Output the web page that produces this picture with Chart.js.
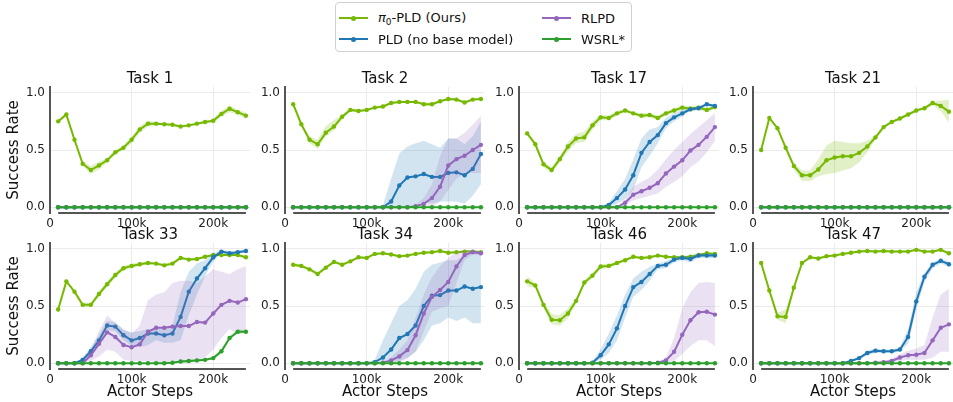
<!DOCTYPE html>
<html>
<head>
<meta charset="utf-8">
<title>Success rate per task</title>
<script src="https://cdn.jsdelivr.net/npm/chart.js@4.4.1/dist/chart.umd.min.js"></script>
<style>
  html, body { margin: 0; padding: 0; background: #fff; overflow: hidden; }
  body { position: relative; width: 953px; height: 402px; font-family: "DejaVu Sans", sans-serif; color: #111; }
  canvas { position: absolute; }
  #legend { position: absolute; left: 335px; top: 2px; width: 297px; height: 50px; border: 1px solid #d0d0d0; border-radius: 4px; box-sizing: border-box; background: #fff; z-index: 2; }
  .entry { position: absolute; height: 20px; display: flex; align-items: center; font-size: 13px; white-space: nowrap; }
  .swatch { position: relative; width: 29px; height: 2px; margin-right: 10px; }
  .swatch::after { content: ""; position: absolute; left: 12px; top: -1.5px; width: 5px; height: 5px; border-radius: 50%; background: inherit; }
  sub { font-size: 9px; vertical-align: -3px; }
</style>
</head>
<body>
<div id="legend">
  <div class="entry" style="left:3px; top:5px"><span class="swatch" style="background:#76b900"></span><span><i>π</i><sub>0</sub>-PLD (Ours)</span></div>
  <div class="entry" style="left:3px; top:26px"><span class="swatch" style="background:#1f77b4"></span><span>PLD (no base model)</span></div>
  <div class="entry" style="left:206px; top:5px"><span class="swatch" style="background:#9467bd"></span><span>RLPD</span></div>
  <div class="entry" style="left:206px; top:26px"><span class="swatch" style="background:#2ca02c"></span><span>WSRL*</span></div>
</div>
<script>
// actor steps at which every run was evaluated
const steps = [10000, 20000, 30000, 40000, 50000, 60000, 70000, 80000, 90000, 100000, 110000, 120000,
               130000, 140000, 150000, 160000, 170000, 180000, 190000, 200000, 210000, 220000, 230000, 240000];
const step_ticks = [0, 100000, 200000];
const rate_ticks = [0, 0.5, 1.0];
const zero_line = [0, 0, 0, 0, 0, 0, 0, 0, 0, 0, 0, 0, 0, 0, 0, 0, 0, 0, 0, 0, 0, 0, 0, 0];

// Task 1
const task1_pi0    = [0.75, 0.81, 0.59, 0.38, 0.325, 0.365, 0.41, 0.48, 0.52, 0.59, 0.68, 0.73, 0.73, 0.725, 0.72, 0.705, 0.715, 0.73, 0.745, 0.755, 0.815, 0.86, 0.83, 0.80];
const task1_pi0_lo = [0.74, 0.80, 0.57, 0.36, 0.29, 0.33, 0.39, 0.46, 0.50, 0.56, 0.65, 0.705, 0.715, 0.715, 0.71, 0.695, 0.705, 0.72, 0.735, 0.74, 0.79, 0.83, 0.81, 0.77];
const task1_pi0_hi = [0.76, 0.82, 0.61, 0.40, 0.36, 0.40, 0.43, 0.50, 0.54, 0.62, 0.71, 0.755, 0.745, 0.735, 0.73, 0.715, 0.725, 0.74, 0.755, 0.77, 0.84, 0.89, 0.85, 0.83];

// Task 2
const task2_pi0     = [0.90, 0.725, 0.59, 0.55, 0.65, 0.705, 0.79, 0.85, 0.84, 0.85, 0.87, 0.88, 0.91, 0.92, 0.92, 0.92, 0.90, 0.90, 0.925, 0.945, 0.94, 0.915, 0.94, 0.945];
const task2_pi0_lo  = [0.89, 0.71, 0.56, 0.51, 0.62, 0.67, 0.77, 0.835, 0.83, 0.84, 0.86, 0.865, 0.90, 0.91, 0.91, 0.91, 0.885, 0.885, 0.915, 0.935, 0.93, 0.90, 0.93, 0.935];
const task2_pi0_hi  = [0.91, 0.74, 0.62, 0.59, 0.71, 0.76, 0.81, 0.865, 0.855, 0.86, 0.88, 0.895, 0.92, 0.93, 0.93, 0.93, 0.915, 0.915, 0.935, 0.955, 0.95, 0.93, 0.95, 0.955];
const task2_pld     = [0, 0, 0, 0, 0, 0, 0, 0, 0, 0, 0, 0, 0.05, 0.19, 0.26, 0.27, 0.29, 0.265, 0.265, 0.30, 0.305, 0.28, 0.335, 0.465];
const task2_pld_lo  = [0, 0, 0, 0, 0, 0, 0, 0, 0, 0, 0, 0, 0, 0, 0, 0.02, 0.05, 0.03, 0.05, 0.05, 0.05, 0.03, 0.10, 0.20];
const task2_pld_hi  = [0, 0, 0, 0, 0, 0, 0, 0, 0, 0, 0, 0.02, 0.25, 0.47, 0.53, 0.56, 0.58, 0.55, 0.52, 0.60, 0.60, 0.55, 0.62, 0.75];
const task2_rlpd    = [0, 0, 0, 0, 0, 0, 0, 0, 0, 0, 0, 0, 0, 0, 0, 0.01, 0.03, 0.08, 0.18, 0.365, 0.42, 0.45, 0.50, 0.545];
const task2_rlpd_lo = [0, 0, 0, 0, 0, 0, 0, 0, 0, 0, 0, 0, 0, 0, 0, 0, 0, 0, 0.05, 0.15, 0.25, 0.30, 0.30, 0.30];
const task2_rlpd_hi = [0, 0, 0, 0, 0, 0, 0, 0, 0, 0, 0, 0, 0, 0, 0, 0.02, 0.08, 0.20, 0.45, 0.60, 0.60, 0.65, 0.72, 0.80];

// Task 17
const task17_pi0     = [0.645, 0.55, 0.375, 0.325, 0.42, 0.53, 0.60, 0.61, 0.715, 0.785, 0.78, 0.82, 0.845, 0.82, 0.80, 0.805, 0.78, 0.82, 0.845, 0.87, 0.86, 0.87, 0.85, 0.875];
const task17_pi0_lo  = [0.63, 0.53, 0.35, 0.30, 0.39, 0.49, 0.56, 0.57, 0.68, 0.76, 0.76, 0.80, 0.83, 0.805, 0.78, 0.785, 0.76, 0.80, 0.825, 0.85, 0.835, 0.85, 0.83, 0.855];
const task17_pi0_hi  = [0.66, 0.57, 0.40, 0.35, 0.45, 0.57, 0.64, 0.66, 0.75, 0.81, 0.80, 0.84, 0.86, 0.835, 0.82, 0.825, 0.80, 0.84, 0.865, 0.89, 0.885, 0.89, 0.87, 0.895];
const task17_pld     = [0, 0, 0, 0, 0, 0, 0, 0, 0, 0, 0.02, 0.08, 0.155, 0.28, 0.475, 0.57, 0.63, 0.735, 0.785, 0.82, 0.855, 0.865, 0.90, 0.885];
const task17_pld_lo  = [0, 0, 0, 0, 0, 0, 0, 0, 0, 0, 0, 0.03, 0.07, 0.15, 0.35, 0.45, 0.56, 0.69, 0.75, 0.79, 0.84, 0.85, 0.89, 0.87];
const task17_pld_hi  = [0, 0, 0, 0, 0, 0, 0, 0, 0, 0, 0.04, 0.14, 0.25, 0.42, 0.60, 0.68, 0.70, 0.78, 0.82, 0.85, 0.87, 0.88, 0.91, 0.90];
const task17_rlpd    = [0, 0, 0, 0, 0, 0, 0, 0, 0, 0, 0, 0, 0.04, 0.11, 0.14, 0.17, 0.21, 0.295, 0.355, 0.41, 0.495, 0.545, 0.615, 0.70];
const task17_rlpd_lo = [0, 0, 0, 0, 0, 0, 0, 0, 0, 0, 0, 0, 0.02, 0.06, 0.08, 0.10, 0.12, 0.18, 0.22, 0.27, 0.35, 0.40, 0.48, 0.58];
const task17_rlpd_hi = [0, 0, 0, 0, 0, 0, 0, 0, 0, 0, 0, 0, 0.06, 0.18, 0.22, 0.26, 0.33, 0.42, 0.50, 0.57, 0.64, 0.70, 0.76, 0.82];

// Task 21
const task21_pi0    = [0.50, 0.78, 0.69, 0.52, 0.36, 0.28, 0.28, 0.33, 0.41, 0.435, 0.445, 0.445, 0.475, 0.53, 0.61, 0.70, 0.745, 0.775, 0.81, 0.845, 0.865, 0.91, 0.885, 0.835];
const task21_pi0_lo = [0.49, 0.77, 0.68, 0.50, 0.33, 0.23, 0.23, 0.27, 0.29, 0.30, 0.32, 0.34, 0.39, 0.48, 0.59, 0.69, 0.735, 0.76, 0.80, 0.835, 0.85, 0.89, 0.84, 0.74];
const task21_pi0_hi = [0.51, 0.79, 0.70, 0.54, 0.39, 0.32, 0.32, 0.42, 0.54, 0.58, 0.57, 0.56, 0.56, 0.58, 0.63, 0.71, 0.755, 0.79, 0.82, 0.855, 0.88, 0.93, 0.93, 0.94];

// Task 33
const task33_pi0     = [0.47, 0.715, 0.625, 0.51, 0.51, 0.605, 0.69, 0.77, 0.83, 0.85, 0.865, 0.875, 0.87, 0.855, 0.87, 0.92, 0.905, 0.91, 0.93, 0.945, 0.945, 0.945, 0.945, 0.925];
const task33_pi0_lo  = [0.46, 0.705, 0.615, 0.49, 0.49, 0.58, 0.665, 0.745, 0.81, 0.83, 0.85, 0.86, 0.855, 0.84, 0.855, 0.91, 0.89, 0.90, 0.92, 0.935, 0.935, 0.935, 0.935, 0.91];
const task33_pi0_hi  = [0.48, 0.725, 0.635, 0.53, 0.53, 0.63, 0.715, 0.795, 0.85, 0.87, 0.88, 0.89, 0.885, 0.87, 0.885, 0.93, 0.92, 0.92, 0.94, 0.955, 0.955, 0.955, 0.955, 0.94];
const task33_pld     = [0, 0, 0, 0.03, 0.105, 0.20, 0.33, 0.32, 0.245, 0.20, 0.22, 0.26, 0.26, 0.245, 0.26, 0.405, 0.625, 0.74, 0.83, 0.925, 0.975, 0.96, 0.97, 0.98];
const task33_pld_lo  = [0, 0, 0, 0.01, 0.07, 0.15, 0.29, 0.28, 0.20, 0.15, 0.14, 0.16, 0.20, 0.18, 0.18, 0.20, 0.42, 0.60, 0.76, 0.89, 0.96, 0.94, 0.955, 0.97];
const task33_pld_hi  = [0, 0, 0, 0.05, 0.14, 0.25, 0.37, 0.36, 0.29, 0.27, 0.28, 0.30, 0.30, 0.30, 0.33, 0.62, 0.80, 0.87, 0.90, 0.96, 0.99, 0.98, 0.985, 0.99];
const task33_rlpd    = [0, 0, 0, 0, 0.07, 0.17, 0.27, 0.23, 0.16, 0.14, 0.165, 0.275, 0.31, 0.31, 0.32, 0.325, 0.325, 0.36, 0.355, 0.435, 0.51, 0.545, 0.53, 0.56];
const task33_rlpd_lo = [0, 0, 0, 0, 0.02, 0.06, 0.12, 0.10, 0.03, 0.02, 0.02, 0.02, 0.01, 0, 0, 0, 0, 0.02, 0.05, 0.12, 0.22, 0.30, 0.25, 0.28];
const task33_rlpd_hi = [0, 0, 0, 0, 0.12, 0.28, 0.42, 0.35, 0.30, 0.26, 0.33, 0.55, 0.60, 0.62, 0.70, 0.72, 0.72, 0.70, 0.76, 0.82, 0.80, 0.78, 0.82, 0.85];
const task33_wsrl    = [0, 0, 0, 0, 0, 0, 0, 0, 0, 0, 0, 0, 0, 0, 0.005, 0.015, 0.02, 0.025, 0.03, 0.045, 0.105, 0.22, 0.275, 0.275];
const task33_wsrl_lo = [0, 0, 0, 0, 0, 0, 0, 0, 0, 0, 0, 0, 0, 0, 0, 0.005, 0.01, 0.015, 0.02, 0.03, 0.085, 0.20, 0.26, 0.26];
const task33_wsrl_hi = [0, 0, 0, 0, 0, 0, 0, 0, 0, 0, 0, 0, 0, 0, 0.01, 0.025, 0.03, 0.035, 0.04, 0.06, 0.125, 0.24, 0.295, 0.29];

// Task 34
const task34_pi0     = [0.86, 0.85, 0.82, 0.78, 0.835, 0.885, 0.86, 0.89, 0.925, 0.92, 0.955, 0.96, 0.95, 0.935, 0.94, 0.955, 0.965, 0.97, 0.98, 0.965, 0.97, 0.975, 0.975, 0.97];
const task34_pi0_lo  = [0.845, 0.835, 0.805, 0.76, 0.82, 0.875, 0.845, 0.88, 0.915, 0.91, 0.945, 0.95, 0.94, 0.925, 0.93, 0.945, 0.955, 0.96, 0.97, 0.955, 0.96, 0.965, 0.965, 0.96];
const task34_pi0_hi  = [0.875, 0.865, 0.835, 0.80, 0.85, 0.895, 0.875, 0.90, 0.935, 0.93, 0.965, 0.97, 0.96, 0.945, 0.95, 0.965, 0.975, 0.98, 0.99, 0.975, 0.98, 0.985, 0.985, 0.98];
const task34_pld     = [0, 0, 0, 0, 0, 0, 0, 0, 0, 0, 0.01, 0.05, 0.12, 0.22, 0.255, 0.33, 0.50, 0.59, 0.595, 0.635, 0.635, 0.67, 0.65, 0.665];
const task34_pld_lo  = [0, 0, 0, 0, 0, 0, 0, 0, 0, 0, 0, 0, 0, 0.02, 0.05, 0.10, 0.20, 0.33, 0.35, 0.40, 0.37, 0.40, 0.35, 0.35];
const task34_pld_hi  = [0, 0, 0, 0, 0, 0, 0, 0, 0, 0, 0.03, 0.20, 0.35, 0.50, 0.55, 0.65, 0.80, 0.86, 0.88, 0.90, 0.90, 0.95, 0.97, 0.97];
const task34_rlpd    = [0, 0, 0, 0, 0, 0, 0, 0, 0, 0, 0, 0.005, 0.025, 0.06, 0.115, 0.245, 0.435, 0.58, 0.64, 0.71, 0.845, 0.945, 0.97, 0.96];
const task34_rlpd_lo = [0, 0, 0, 0, 0, 0, 0, 0, 0, 0, 0, 0, 0, 0.01, 0.04, 0.10, 0.28, 0.45, 0.48, 0.50, 0.70, 0.90, 0.95, 0.94];
const task34_rlpd_hi = [0, 0, 0, 0, 0, 0, 0, 0, 0, 0, 0, 0.01, 0.05, 0.12, 0.20, 0.40, 0.60, 0.75, 0.85, 0.92, 0.97, 0.99, 0.99, 0.98];

// Task 46
const task46_pi0     = [0.715, 0.68, 0.51, 0.38, 0.375, 0.435, 0.545, 0.705, 0.765, 0.845, 0.85, 0.875, 0.90, 0.93, 0.92, 0.925, 0.94, 0.93, 0.925, 0.925, 0.93, 0.945, 0.96, 0.955];
const task46_pi0_lo  = [0.67, 0.66, 0.48, 0.34, 0.33, 0.39, 0.52, 0.68, 0.74, 0.825, 0.83, 0.86, 0.885, 0.92, 0.905, 0.91, 0.93, 0.92, 0.915, 0.915, 0.92, 0.935, 0.95, 0.945];
const task46_pi0_hi  = [0.76, 0.70, 0.54, 0.43, 0.42, 0.48, 0.57, 0.73, 0.79, 0.865, 0.87, 0.89, 0.915, 0.94, 0.935, 0.94, 0.95, 0.94, 0.935, 0.935, 0.94, 0.955, 0.97, 0.965];
const task46_pld     = [0, 0, 0, 0, 0, 0, 0, 0, 0.005, 0.07, 0.165, 0.305, 0.50, 0.665, 0.71, 0.78, 0.85, 0.86, 0.905, 0.92, 0.91, 0.94, 0.94, 0.94];
const task46_pld_lo  = [0, 0, 0, 0, 0, 0, 0, 0, 0, 0.03, 0.09, 0.20, 0.40, 0.58, 0.64, 0.72, 0.82, 0.83, 0.88, 0.90, 0.88, 0.92, 0.92, 0.92];
const task46_pld_hi  = [0, 0, 0, 0, 0, 0, 0, 0, 0.02, 0.12, 0.26, 0.42, 0.60, 0.74, 0.80, 0.84, 0.87, 0.89, 0.93, 0.94, 0.94, 0.96, 0.96, 0.96];
const task46_rlpd    = [0, 0, 0, 0, 0, 0, 0, 0, 0, 0, 0, 0, 0, 0, 0, 0, 0.005, 0.025, 0.10, 0.25, 0.375, 0.445, 0.45, 0.425];
const task46_rlpd_lo = [0, 0, 0, 0, 0, 0, 0, 0, 0, 0, 0, 0, 0, 0, 0, 0, 0, 0, 0.02, 0.08, 0.15, 0.20, 0.20, 0.15];
const task46_rlpd_hi = [0, 0, 0, 0, 0, 0, 0, 0, 0, 0, 0, 0, 0, 0, 0, 0, 0.01, 0.05, 0.22, 0.48, 0.62, 0.70, 0.71, 0.70];

// Task 47
const task47_pi0     = [0.875, 0.635, 0.41, 0.405, 0.66, 0.875, 0.925, 0.915, 0.935, 0.94, 0.955, 0.965, 0.975, 0.98, 0.975, 0.98, 0.975, 0.975, 0.975, 0.99, 0.975, 0.975, 0.99, 0.96];
const task47_pi0_lo  = [0.865, 0.625, 0.38, 0.35, 0.64, 0.865, 0.915, 0.905, 0.925, 0.93, 0.945, 0.955, 0.965, 0.97, 0.965, 0.97, 0.965, 0.965, 0.965, 0.98, 0.965, 0.965, 0.98, 0.945];
const task47_pi0_hi  = [0.885, 0.645, 0.44, 0.47, 0.68, 0.885, 0.935, 0.925, 0.945, 0.95, 0.965, 0.975, 0.985, 0.99, 0.985, 0.99, 0.985, 0.985, 0.985, 1.0, 0.985, 0.985, 1.0, 0.975];
const task47_pld     = [0, 0, 0, 0, 0, 0, 0, 0, 0, 0, 0, 0.02, 0.045, 0.09, 0.11, 0.105, 0.105, 0.12, 0.23, 0.54, 0.755, 0.86, 0.895, 0.865];
const task47_pld_lo  = [0, 0, 0, 0, 0, 0, 0, 0, 0, 0, 0, 0.01, 0.03, 0.07, 0.09, 0.09, 0.09, 0.10, 0.17, 0.47, 0.71, 0.83, 0.87, 0.84];
const task47_pld_hi  = [0, 0, 0, 0, 0, 0, 0, 0, 0, 0, 0, 0.03, 0.06, 0.11, 0.13, 0.12, 0.12, 0.14, 0.30, 0.62, 0.79, 0.88, 0.91, 0.89];
const task47_rlpd    = [0, 0, 0, 0, 0, 0, 0, 0, 0, 0, 0, 0, 0, 0, 0.005, 0.01, 0.02, 0.05, 0.07, 0.075, 0.09, 0.20, 0.31, 0.34];
const task47_rlpd_lo = [0, 0, 0, 0, 0, 0, 0, 0, 0, 0, 0, 0, 0, 0, 0, 0, 0.005, 0.02, 0.03, 0.03, 0.03, 0.05, 0.10, 0.10];
const task47_rlpd_hi = [0, 0, 0, 0, 0, 0, 0, 0, 0, 0, 0, 0, 0, 0, 0.01, 0.02, 0.04, 0.08, 0.11, 0.13, 0.16, 0.40, 0.60, 0.65];

const flat = [zero_line, zero_line, zero_line];

// mean, lower and upper curve of every method, panel by panel
const panels = [
  { title: 'Task 1',  pi0: [task1_pi0, task1_pi0_lo, task1_pi0_hi], pld: flat, rlpd: flat, wsrl: flat },
  { title: 'Task 2',  pi0: [task2_pi0, task2_pi0_lo, task2_pi0_hi], pld: [task2_pld, task2_pld_lo, task2_pld_hi], rlpd: [task2_rlpd, task2_rlpd_lo, task2_rlpd_hi], wsrl: flat },
  { title: 'Task 17', pi0: [task17_pi0, task17_pi0_lo, task17_pi0_hi], pld: [task17_pld, task17_pld_lo, task17_pld_hi], rlpd: [task17_rlpd, task17_rlpd_lo, task17_rlpd_hi], wsrl: flat },
  { title: 'Task 21', pi0: [task21_pi0, task21_pi0_lo, task21_pi0_hi], pld: flat, rlpd: flat, wsrl: flat },
  { title: 'Task 33', pi0: [task33_pi0, task33_pi0_lo, task33_pi0_hi], pld: [task33_pld, task33_pld_lo, task33_pld_hi], rlpd: [task33_rlpd, task33_rlpd_lo, task33_rlpd_hi], wsrl: [task33_wsrl, task33_wsrl_lo, task33_wsrl_hi] },
  { title: 'Task 34', pi0: [task34_pi0, task34_pi0_lo, task34_pi0_hi], pld: [task34_pld, task34_pld_lo, task34_pld_hi], rlpd: [task34_rlpd, task34_rlpd_lo, task34_rlpd_hi], wsrl: flat },
  { title: 'Task 46', pi0: [task46_pi0, task46_pi0_lo, task46_pi0_hi], pld: [task46_pld, task46_pld_lo, task46_pld_hi], rlpd: [task46_rlpd, task46_rlpd_lo, task46_rlpd_hi], wsrl: flat },
  { title: 'Task 47', pi0: [task47_pi0, task47_pi0_lo, task47_pi0_hi], pld: [task47_pld, task47_pld_lo, task47_pld_hi], rlpd: [task47_rlpd, task47_rlpd_lo, task47_rlpd_hi], wsrl: flat },
];

const methods = [
  { key: 'pi0',  color: '#76b900', band: 'rgba(118,185,0,0.22)' },
  { key: 'pld',  color: '#1f77b4', band: 'rgba(31,119,180,0.2)' },
  { key: 'rlpd', color: '#9467bd', band: 'rgba(148,103,189,0.2)' },
  { key: 'wsrl', color: '#2ca02c', band: 'rgba(44,160,44,0.2)' },
];

// plot area of each panel, in page pixels
const colLeft = [50, 285, 519, 753];
const rowTop = [87, 243];

Chart.defaults.font.family = '"DejaVu Sans", sans-serif';
Chart.defaults.color = '#222';

function toPoints(vals) {
  return vals.map((v, i) => ({ x: steps[i], y: v }));
}

function buildDatasets(panel) {
  const sets = [];
  methods.forEach((m, k) => {
    const [mean, lo, hi] = panel[m.key];
    const layer = 20 - k * 4; // later methods paint over earlier ones
    sets.push({ data: toPoints(hi), fill: '+1', backgroundColor: m.band, borderColor: 'transparent', borderWidth: 0, pointRadius: 0, order: layer });
    sets.push({ data: toPoints(lo), fill: false, borderColor: 'transparent', borderWidth: 0, pointRadius: 0, order: layer });
    sets.push({ data: toPoints(mean), fill: false, borderColor: m.color, backgroundColor: m.color, borderWidth: 2,
                pointRadius: 2.2, pointBorderWidth: 0, pointBackgroundColor: m.color, order: layer - 1 });
  });
  return sets;
}

// bottom spine only spans the evaluated steps
const bottomSpine = {
  id: 'bottomSpine',
  afterDraw(chart) {
    const x = chart.scales.x;
    const y = chart.chartArea.bottom;
    const ctx = chart.ctx;
    ctx.save();
    ctx.strokeStyle = '#555';
    ctx.lineWidth = 2;
    ctx.beginPath();
    ctx.moveTo(x.getPixelForValue(steps[0]), y);
    ctx.lineTo(x.getPixelForValue(steps[steps.length - 1]), y);
    ctx.stroke();
    ctx.restore();
  }
};

panels.forEach((panel, i) => {
  const col = i % 4, row = Math.floor(i / 4);
  const canvas = document.createElement('canvas');
  canvas.width = 300;
  canvas.height = 196;
  canvas.style.left = (colLeft[col] - 50) + 'px';
  canvas.style.top = (rowTop[row] - 30) + 'px';
  document.body.appendChild(canvas);

  new Chart(canvas, {
    type: 'line',
    data: { datasets: buildDatasets(panel) },
    options: {
      responsive: false,
      animation: false,
      events: [],
      layout: { padding: { left: 0, top: 0, right: 50, bottom: 0 } },
      plugins: {
        legend: { display: false },
        tooltip: { enabled: false },
        title: {
          display: true,
          text: panel.title,
          fullSize: false,
          color: '#111',
          font: { size: 15, weight: 'normal', lineHeight: 1 },
          padding: { top: 14.5, bottom: 0.5 }
        }
      },
      scales: {
        x: {
          type: 'linear',
          min: 0,
          max: 245000,
          grid: { color: '#ebebeb', drawTicks: false },
          border: { display: false },
          afterBuildTicks: s => { s.ticks = step_ticks.map(v => ({ value: v })); },
          ticks: {
            padding: 4,
            maxRotation: 0,
            autoSkip: false,
            font: { size: 12 },
            callback: v => v === 0 ? '0' : (v / 1000) + 'k'
          },
          title: { display: row === 1, text: 'Actor Steps', color: '#111', font: { size: 15 }, padding: { top: 0, bottom: 8 } },
          afterFit: s => { s.height = 40; }
        },
        y: {
          min: -0.05,
          max: 1.05,
          grid: { color: '#ebebeb', drawTicks: false },
          border: { display: true, color: '#555', width: 2 },
          afterBuildTicks: s => { s.ticks = rate_ticks.map(v => ({ value: v })); },
          ticks: {
            padding: 5,
            autoSkip: false,
            font: { size: 12 },
            callback: v => v.toFixed(1)
          },
          title: { display: col === 0, text: 'Success Rate', color: '#111', font: { size: 15 }, padding: { top: 5.5, bottom: 0 } },
          afterFit: s => { s.width = 50; }
        }
      }
    },
    plugins: [bottomSpine]
  });
});
</script>
</body>
</html>
